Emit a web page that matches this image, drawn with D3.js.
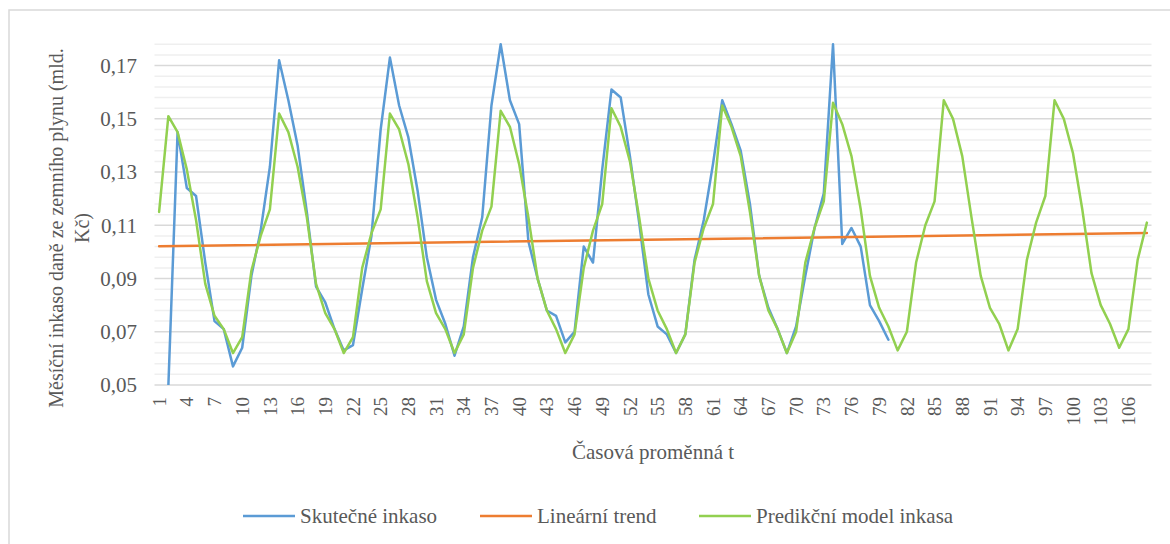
<!DOCTYPE html>
<html>
<head>
<meta charset="utf-8">
<script src="https://cdn.jsdelivr.net/npm/d3@7"></script>
<style>
  html, body { margin: 0; padding: 0; background: #ffffff; }
  svg { display: block; }
  text { font-family: "Liberation Serif", "Times New Roman", serif; fill: #595959; }
</style>
</head>
<body>
<svg id="chart" width="1170" height="544"></svg>
<script>
// Time index t = 1..108 (months)
const categories = d3.range(1, 109);

// Actual monthly gas-tax collection (bn CZK); first month has no value
const actual = [
  null, 0.0495, 0.145, 0.124, 0.121, 0.096, 0.074, 0.071, 0.057, 0.064, 0.091, 0.108,
  0.132, 0.172, 0.157, 0.140, 0.115, 0.087, 0.081, 0.071, 0.063, 0.065, 0.086, 0.106,
  0.146, 0.173, 0.155, 0.143, 0.123, 0.098, 0.082, 0.073, 0.061, 0.072, 0.098, 0.113,
  0.155, 0.178, 0.157, 0.148, 0.104, 0.090, 0.078, 0.076, 0.066, 0.070, 0.102, 0.096,
  0.131, 0.161, 0.158, 0.136, 0.111, 0.084, 0.072, 0.069, 0.062, 0.069, 0.097, 0.112,
  0.133, 0.157, 0.148, 0.138, 0.118, 0.091, 0.079, 0.071, 0.062, 0.072, 0.091, 0.109,
  0.122, 0.178, 0.103, 0.109, 0.102, 0.080, 0.074, 0.067
];

// Linear trend, value at the first and last month
const trendEnds = [0.1021, 0.1071];

// Seasonal prediction model of the collection
const predicted = [
  0.115, 0.151, 0.145, 0.131, 0.112, 0.088, 0.076, 0.071, 0.062, 0.068, 0.093, 0.106,
  0.116, 0.152, 0.145, 0.132, 0.113, 0.088, 0.077, 0.071, 0.062, 0.068, 0.094, 0.107,
  0.116, 0.152, 0.146, 0.133, 0.113, 0.089, 0.077, 0.071, 0.062, 0.069, 0.094, 0.108,
  0.117, 0.153, 0.147, 0.133, 0.113, 0.090, 0.078, 0.071, 0.062, 0.069, 0.094, 0.108,
  0.118, 0.154, 0.147, 0.134, 0.113, 0.090, 0.078, 0.071, 0.062, 0.069, 0.096, 0.109,
  0.118, 0.155, 0.147, 0.136, 0.115, 0.091, 0.078, 0.071, 0.062, 0.070, 0.096, 0.109,
  0.119, 0.156, 0.148, 0.136, 0.116, 0.091, 0.079, 0.072, 0.063, 0.070, 0.096, 0.110,
  0.119, 0.157, 0.150, 0.136, 0.113, 0.091, 0.079, 0.073, 0.063, 0.071, 0.097, 0.111,
  0.121, 0.157, 0.150, 0.137, 0.116, 0.092, 0.080, 0.073, 0.064, 0.071, 0.097, 0.111
];

const yTicks = [0.05, 0.07, 0.09, 0.11, 0.13, 0.15, 0.17];
const xTickLabels = [1, 4, 7, 10, 13, 16, 19, 22, 25, 28, 31, 34, 37, 40, 43, 46, 49, 52, 55,
  58, 61, 64, 67, 70, 73, 76, 79, 82, 85, 88, 91, 94, 97, 100, 103, 106];

const seriesNames = ["Skutečné inkaso", "Lineární trend", "Predikční model inkasa"];
const seriesColors = ["#5b9bd5", "#ed7d31", "#92d050"];

const yTitleLines = ["Měsíční inkaso daně ze zemního plynu (mld.", "Kč)"];
const xTitle = "Časová proměnná t";

// ---- layout ----
const W = 1170, H = 544;
const plot = { left: 154.5, right: 1151.5, top: 44.3, bottom: 385 };

const svg = d3.select("#chart");

// chart frame
svg.append("rect")
  .attr("x", 9).attr("y", 10)
  .attr("width", W + 20).attr("height", H + 20)
  .attr("fill", "#ffffff")
  .attr("stroke", "#d9d9d9").attr("stroke-width", 1.5);

const x = d3.scaleBand().domain(categories).range([plot.left, plot.right]).padding(0);
const xc = d => x(d) + x.bandwidth() / 2;
const y = d3.scaleLinear().domain([0.05, 0.178]).range([plot.bottom, plot.top]);

// minor gridlines every 0.004
const minorVals = d3.range(0, 33).map(k => +(0.05 + k * 0.004).toFixed(4))
  .filter(v => !yTicks.some(t => Math.abs(t - v) < 1e-9));
svg.append("g").selectAll("line").data(minorVals).join("line")
  .attr("x1", plot.left).attr("x2", plot.right)
  .attr("y1", d => y(d)).attr("y2", d => y(d))
  .attr("stroke", "#efefef").attr("stroke-width", 1.5);

// major gridlines
svg.append("g").selectAll("line").data(yTicks).join("line")
  .attr("x1", plot.left).attr("x2", plot.right)
  .attr("y1", d => y(d)).attr("y2", d => y(d))
  .attr("stroke", "#d9d9d9").attr("stroke-width", 1.5);

// y tick labels
const fmt = d => d3.format(".2f")(d).replace(".", ",");
const yAxis = d3.axisLeft(y).tickValues(yTicks).tickFormat(fmt).tickSize(0).tickPadding(0);
const gy = svg.append("g").attr("transform", `translate(137,0)`).call(yAxis);
gy.select(".domain").remove();
gy.selectAll("text")
  .style("font-family", '"Liberation Serif", "Times New Roman", serif')
  .style("font-size", "21px").attr("fill", "#595959");

// x tick labels, rotated
const xAxis = d3.axisBottom(x).tickValues(xTickLabels).tickSize(0).tickPadding(0);
const gx = svg.append("g").attr("transform", `translate(0,${plot.bottom})`).call(xAxis);
gx.select(".domain").remove();
gx.selectAll("text")
  .attr("transform", "rotate(-90)")
  .attr("x", -12).attr("y", 0).attr("dy", "0.35em")
  .style("text-anchor", "end")
  .style("font-family", '"Liberation Serif", "Times New Roman", serif')
  .style("font-size", "19px").attr("fill", "#595959");

// series lines, clipped to plot area
svg.append("clipPath").attr("id", "plotClip").append("rect")
  .attr("x", plot.left).attr("y", plot.top - 2)
  .attr("width", plot.right - plot.left).attr("height", plot.bottom - plot.top + 2);

const lines = svg.append("g").attr("clip-path", "url(#plotClip)");
const lineGen = d3.line()
  .defined(d => d.v != null)
  .x(d => xc(d.t)).y(d => y(d.v));

const trendPts = [{ t: categories[0], v: trendEnds[0] }, { t: categories[categories.length - 1], v: trendEnds[1] }];
const actualPts = actual.map((v, i) => ({ t: categories[i], v }));
const predPts = predicted.map((v, i) => ({ t: categories[i], v }));

[[actualPts, 0], [trendPts, 1], [predPts, 2]].forEach(([pts, k]) => {
  lines.append("path").datum(pts)
    .attr("d", lineGen)
    .attr("fill", "none")
    .attr("stroke", seriesColors[k])
    .attr("stroke-width", 2.5)
    .attr("stroke-linejoin", "round")
    .attr("stroke-linecap", "round");
});

// axis titles
const yTitle = svg.append("text")
  .attr("transform", "translate(63,228) rotate(-90)")
  .attr("text-anchor", "middle")
  .style("font-size", "20px");
yTitle.selectAll("tspan").data(yTitleLines).join("tspan")
  .attr("x", 0).attr("dy", (d, i) => i === 0 ? 0 : "1.3em")
  .text(d => d);

svg.append("text")
  .attr("x", (plot.left + plot.right) / 2).attr("y", 459)
  .attr("text-anchor", "middle")
  .style("font-size", "21px")
  .text(xTitle);

// legend
const legendX = [243, 480, 699];
const legendY = 516;
const lg = svg.append("g");
seriesNames.forEach((name, k) => {
  lg.append("line")
    .attr("x1", legendX[k]).attr("x2", legendX[k] + 52)
    .attr("y1", legendY).attr("y2", legendY)
    .attr("stroke", seriesColors[k]).attr("stroke-width", 2.5);
  lg.append("text")
    .attr("x", legendX[k] + 57).attr("y", legendY).attr("dy", "0.35em")
    .style("font-size", "21px")
    .text(name);
});
</script>
</body>
</html>
